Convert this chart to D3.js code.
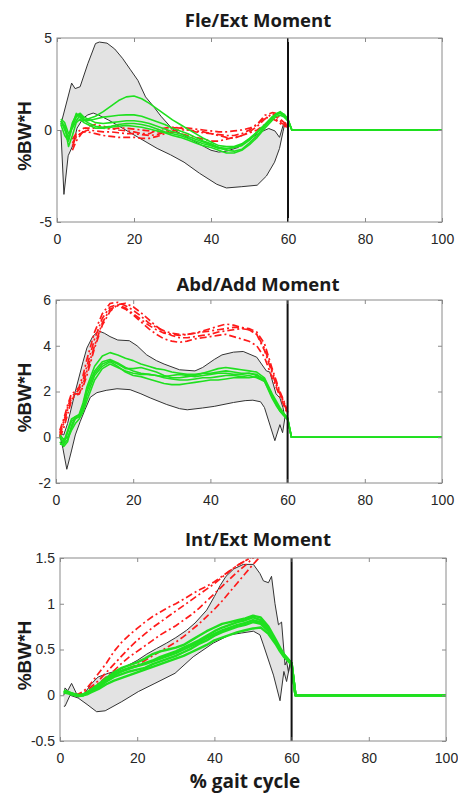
<!DOCTYPE html>
<html lang="en">
<head>
<meta charset="UTF-8">
<title>Hip moments</title>
<script src="https://cdn.jsdelivr.net/npm/d3@7"></script>
<style>
  body { margin: 0; background: #fff; }
  .tick text { font-family: "Liberation Sans", Arial, sans-serif; font-size: 14px; fill: #262626; }
  .title { font-family: "Open Sans", sans-serif; font-weight: bold; font-size: 18.5px; fill: #1a1a1a; }
  .ylab { font-family: "Liberation Sans", Arial, sans-serif; font-weight: bold; font-size: 19px; fill: #1a1a1a; }
</style>
</head>
<body>
<svg id="chart" width="458" height="796"></svg>
<script>
// stance-phase sample points (% gait cycle) shared by the subject curves
var stancePct = [1,2,3,4,5,6,7,8,10,12,14,16,18,20,22,24,26,28,30,32,34,36,38,40,42,44,46,48,50,52,54,56,57,58,59,60];
// after toe-off the green curves sit at zero
var swingPct = [61, 100];
var swingVal = [0, 0];
var xTicks = [0, 20, 40, 60, 80, 100];
var toeOff = 60;

// ---- Fle/Ext ----
var fleTicks = [-5, 0, 5];
var fleUpper = [[1,0.3],[3.8,2.55],[4.7,2.25],[6,2.35],[8,3.6],[10,4.7],[11,4.78],[13,4.72],[15,4.4],[17,3.9],[19,3.3],[21,2.7],[23,1.8],[25,1.3],[27,0.75],[30,0.05],[33,-0.3],[36,-0.65],[40,-1.1],[42,-1.2],[44,-1.15],[47,-0.95],[50,-0.5],[53,-0.1],[55,0.08],[56.6,-0.05],[57.8,-0.4],[58.8,0.3],[59.3,0.4]];
var fleLower = [[1,0.0],[1.8,-3.5],[2.9,-1.4],[4.2,-0.8],[5.2,0.1],[6.8,0.64],[8,0.82],[9.4,0.92],[10.7,0.82],[13.3,0.55],[17,0.1],[21.5,-0.45],[26,-1.0],[29.5,-1.35],[33,-1.75],[37,-2.35],[41.5,-2.95],[44,-3.15],[48,-3.08],[52,-3.0],[54.4,-2.5],[56.5,-1.75],[57.8,-1.0],[58.7,-0.1],[59.2,0.4]];
var fleRed = [
  [null,null,null,-0.9,-0.3,-0.2,-0.1,-0.1,-0.2,-0.3,-0.35,-0.4,-0.4,-0.4,-0.45,-0.45,-0.35,-0.2,-0.1,-0.2,-0.3,-0.4,-0.5,-0.6,-0.6,-0.5,-0.4,-0.3,-0.15,0.0,0.3,0.6,0.55,0.4,0.3,0.2],
  [null,null,null,-0.5,-0.2,0.0,0.1,0.1,0.1,0.1,0.05,0.1,0.1,0.05,0.0,-0.05,-0.1,-0.1,-0.05,0.0,0.0,-0.05,-0.1,-0.2,-0.25,-0.3,-0.3,-0.2,0.0,0.3,0.8,0.95,0.9,0.6,0.4,0.3],
  [null,null,null,-1.1,-0.6,-0.3,0.0,0.2,0.3,0.2,0.1,0.0,-0.05,-0.1,-0.2,-0.2,0.0,0.1,0.15,0.1,0.0,-0.1,-0.15,-0.2,-0.3,-0.4,-0.45,-0.3,-0.1,0.2,0.6,0.9,0.7,0.5,0.3,0.25],
  [null,null,null,-0.7,-0.4,-0.2,-0.1,0.0,-0.05,-0.1,-0.1,-0.15,-0.2,-0.2,-0.25,-0.3,-0.25,-0.1,0.1,0.15,0.1,0.05,0.0,-0.05,-0.1,-0.1,-0.05,0.0,0.1,0.3,0.7,0.6,0.5,0.35,0.2,0.15]
];
var fleGreen = [
  [0.5,0.2,-0.5,0.3,0.9,0.7,0.5,0.6,0.75,1.0,1.3,1.6,1.8,1.85,1.7,1.45,1.15,0.85,0.55,0.3,0.05,-0.2,-0.45,-0.65,-0.85,-0.9,-0.9,-0.75,-0.45,-0.1,0.3,0.75,0.85,0.9,0.75,0.5],
  [0.3,-0.3,-0.6,0.2,0.7,0.9,0.6,0.5,0.6,0.7,0.75,0.8,0.82,0.82,0.75,0.6,0.45,0.3,0.1,-0.05,-0.2,-0.4,-0.6,-0.75,-0.95,-1.1,-1.15,-1.05,-0.7,-0.3,0.2,0.7,0.85,0.95,0.85,0.55],
  [0.6,0.4,-0.2,0.1,0.5,0.8,0.55,0.4,0.2,0.15,0.2,0.3,0.35,0.35,0.3,0.2,0.05,-0.1,-0.2,-0.3,-0.45,-0.6,-0.75,-0.85,-1.0,-1.05,-0.95,-0.8,-0.5,-0.1,0.3,0.7,0.9,1.0,0.8,0.55],
  [0.4,0.2,-0.9,-0.3,0.4,0.6,0.4,0.3,0.1,0.1,0.15,0.2,0.25,0.2,0.15,0.05,-0.05,-0.15,-0.3,-0.4,-0.55,-0.7,-0.85,-0.95,-1.1,-1.25,-1.25,-1.1,-0.8,-0.4,0.1,0.55,0.75,0.8,0.7,0.5],
  [0.5,0.0,-0.4,0.4,0.8,0.9,0.7,0.6,0.4,0.35,0.4,0.45,0.5,0.5,0.45,0.35,0.2,0.05,-0.1,-0.2,-0.35,-0.5,-0.65,-0.8,-0.95,-1.0,-0.95,-0.85,-0.55,-0.15,0.25,0.65,0.85,0.95,0.85,0.6]
];

// ---- Abd/Add ----
var abdTicks = [-2, 0, 2, 4, 6];
var abdUpper = [[1,0.2],[2,0.1],[3,0.6],[5,2.0],[7,3.3],[8,3.9],[9.5,4.4],[11,4.65],[12.5,4.55],[14,4.4],[16,4.25],[19,4.22],[21,4.0],[23.5,3.6],[26,3.35],[28,3.2],[32,2.95],[36,2.9],[38,3.05],[41,3.4],[43,3.6],[46,3.72],[48.5,3.75],[52,3.5],[54.5,2.9],[55.4,2.85],[57,1.9],[58,1.72],[58.8,1.3],[59.3,0.85]];
var abdLower = [[1,0.1],[1.8,-0.5],[2.8,-1.4],[4,-0.6],[5,0.1],[6.3,0.7],[7.5,1.2],[8.9,1.75],[10.6,1.95],[13,2.05],[15.8,2.12],[19.2,2.08],[22,1.9],[24.4,1.72],[28.7,1.43],[32,1.25],[34,1.2],[38,1.28],[41,1.35],[46,1.52],[49,1.6],[51,1.62],[53,1.55],[54,1.3],[56.7,-0.15],[58,0.55],[58.7,0.2],[59.3,0.85]];
var abdRed = [
  [0.3,0.8,1.4,1.9,2.0,2.2,2.7,3.4,4.6,5.4,5.85,5.9,5.75,5.55,5.3,5.0,4.8,4.65,4.55,4.5,4.5,4.55,4.6,4.65,4.7,4.75,4.8,4.8,4.75,4.6,4.1,3.0,2.5,2.0,1.6,1.1],
  [0.0,0.4,1.0,1.6,1.9,1.9,2.2,2.7,3.9,4.9,5.5,5.8,5.85,5.7,5.45,5.15,4.85,4.6,4.45,4.35,4.35,4.4,4.45,4.5,4.6,4.65,4.7,4.75,4.7,4.5,3.8,2.8,2.3,1.9,1.5,1.05],
  [0.1,0.6,1.2,1.7,1.8,1.9,2.3,2.9,4.0,5.0,5.6,5.75,5.6,5.35,5.05,4.75,4.5,4.3,4.2,4.15,4.2,4.3,4.35,4.4,4.45,4.5,4.4,4.3,4.2,4.0,3.5,2.6,2.2,1.8,1.4,1.0],
  [0.2,0.7,1.3,1.8,1.9,2.1,2.5,3.1,4.3,5.2,5.7,5.8,5.65,5.4,5.15,4.9,4.7,4.55,4.5,4.45,4.5,4.55,4.65,4.75,4.85,4.95,4.9,4.8,4.7,4.5,3.9,2.9,2.4,1.95,1.55,1.1]
];
var abdGreen = [
  [0.0,-0.2,0.3,0.8,0.9,1.0,1.5,2.2,3.1,3.55,3.7,3.6,3.45,3.35,3.2,3.1,3.0,2.95,2.85,2.8,2.75,2.75,2.8,2.8,2.85,2.9,2.85,2.8,2.8,2.75,2.5,1.8,1.5,1.2,1.0,0.85],
  [-0.2,-0.4,-0.2,0.5,0.9,0.95,1.3,2.0,2.8,3.2,3.35,3.2,3.0,3.0,3.05,2.95,2.85,2.7,2.6,2.6,2.65,2.7,2.8,2.9,3.0,3.05,3.0,2.95,2.9,2.85,2.6,1.9,1.6,1.3,1.05,0.85],
  [0.1,-0.1,0.0,0.4,0.8,0.9,1.2,1.8,2.7,3.1,3.3,3.1,2.85,2.7,2.65,2.55,2.45,2.35,2.3,2.3,2.35,2.4,2.45,2.5,2.5,2.55,2.6,2.6,2.6,2.65,2.45,1.7,1.4,1.15,0.95,0.8],
  [-0.3,-0.3,0.2,0.7,0.85,0.9,1.4,2.1,2.9,3.3,3.4,3.25,3.05,2.9,2.8,2.75,2.7,2.65,2.7,2.75,2.7,2.65,2.7,2.75,2.8,2.8,2.75,2.75,2.8,2.7,2.55,1.85,1.5,1.2,1.0,0.8],
  [0.0,-0.3,-0.1,0.3,0.6,0.8,1.1,1.6,2.5,3.0,3.2,3.05,2.9,2.8,2.75,2.75,2.7,2.6,2.55,2.5,2.5,2.55,2.6,2.6,2.65,2.7,2.7,2.65,2.7,2.6,2.45,1.8,1.45,1.15,0.95,0.75]
];

// ---- Int/Ext ----
var intTicks = [-0.5, 0, 0.5, 1, 1.5];
var intUpper = [[1,0.0],[1.3,0.08],[2,0.05],[3,0.13],[4.7,-0.02],[6.4,0.02],[8,0.12],[9.9,0.2],[12.5,0.24],[15,0.27],[17.3,0.32],[20,0.38],[22.5,0.45],[25,0.51],[27.6,0.57],[30,0.63],[32.8,0.71],[35,0.79],[38,0.93],[40,1.08],[41.5,1.2],[43,1.3],[45,1.38],[47.5,1.43],[50.1,1.43],[51.8,1.33],[52.7,1.25],[54,1.23],[54.8,1.3],[55.7,1.0],[56.6,0.77],[57.4,0.8],[58.3,0.33],[58.7,0.37],[59.2,0.25],[59.6,0.36]];
var intLower = [[1,-0.12],[1.3,-0.12],[2.6,0.0],[4.7,-0.03],[7,-0.1],[9.5,-0.18],[11.7,-0.17],[16,-0.07],[20.3,0.04],[24.6,0.13],[29.8,0.24],[34.5,0.42],[39.7,0.57],[44,0.66],[47,0.68],[50.1,0.7],[51.8,0.66],[52.7,0.55],[55.3,0.22],[57,-0.06],[58,0.26],[58.7,0.15],[59.4,0.3],[59.6,0.36]];
// these run above the 1.5 limit late in stance and are cut off by the axes
var intRed = [
  [null,null,null,0.0,0.02,0.04,0.08,0.13,0.24,0.35,0.48,0.58,0.66,0.73,0.8,0.86,0.91,0.96,1.0,1.05,1.1,1.15,1.19,1.24,1.3,1.36,1.42,1.47,1.52,1.58,1.62,1.65,1.65,1.62,1.58,null],
  [null,null,null,0.0,0.01,0.03,0.05,0.09,0.16,0.25,0.34,0.43,0.52,0.6,0.67,0.74,0.8,0.86,0.92,0.98,1.04,1.1,1.16,1.22,1.29,1.36,1.42,1.47,1.52,1.58,1.62,1.65,1.65,1.62,1.58,null],
  [null,null,null,0.0,0.01,0.02,0.04,0.07,0.13,0.2,0.27,0.35,0.42,0.48,0.54,0.6,0.66,0.71,0.76,0.82,0.88,0.95,1.03,1.11,1.19,1.27,1.35,1.42,1.5,1.56,1.6,1.62,1.62,1.6,1.55,null],
  [null,null,null,0.0,0.01,0.02,0.04,0.06,0.12,0.18,0.23,0.27,0.3,0.33,0.38,0.43,0.48,0.53,0.58,0.64,0.71,0.78,0.86,0.94,1.03,1.13,1.23,1.33,1.43,1.52,1.58,1.6,1.6,1.58,1.52,null]
];
var intGreen = [
  [0.04,0.03,0.02,0.01,0.0,0.01,0.03,0.06,0.12,0.19,0.25,0.3,0.33,0.36,0.4,0.45,0.48,0.5,0.52,0.55,0.6,0.65,0.7,0.74,0.78,0.8,0.82,0.84,0.87,0.85,0.75,0.6,0.52,0.45,0.4,0.35],
  [0.05,0.04,0.02,0.0,0.0,0.0,0.02,0.05,0.1,0.16,0.22,0.26,0.29,0.32,0.35,0.38,0.42,0.45,0.48,0.52,0.56,0.6,0.65,0.7,0.74,0.77,0.8,0.82,0.85,0.82,0.72,0.58,0.5,0.44,0.4,0.35],
  [0.03,0.02,0.01,0.0,-0.01,0.0,0.02,0.04,0.09,0.15,0.2,0.23,0.26,0.28,0.3,0.34,0.37,0.4,0.43,0.47,0.51,0.56,0.6,0.65,0.69,0.72,0.75,0.77,0.8,0.78,0.7,0.57,0.49,0.43,0.38,0.34],
  [0.05,0.03,0.01,0.0,0.0,0.0,0.01,0.03,0.07,0.12,0.16,0.19,0.22,0.25,0.28,0.31,0.34,0.37,0.4,0.43,0.47,0.51,0.55,0.6,0.63,0.66,0.69,0.71,0.73,0.74,0.67,0.55,0.48,0.42,0.38,0.33],
  [0.04,0.03,0.02,0.01,0.0,0.01,0.03,0.06,0.11,0.17,0.23,0.27,0.3,0.32,0.34,0.37,0.4,0.43,0.46,0.5,0.54,0.58,0.63,0.67,0.71,0.74,0.77,0.79,0.82,0.8,0.71,0.58,0.5,0.44,0.39,0.35]
];

var svg = d3.select("#chart");
var GREEN = "#1fe01f", RED = "#ff1a1a", FRAME = "#8a8a8a";

var panels = [
  {title: "Fle/Ext Moment", titleY: 27, left: 57, right: 442, top: 38, bottom: 222,
   yDomain: [-5, 5], yTicks: fleTicks, upper: fleUpper, lower: fleLower, reds: fleRed, greens: fleGreen, gw: 1.6},
  {title: "Abd/Add Moment", titleY: 291, left: 56, right: 442, top: 300, bottom: 483,
   yDomain: [-2, 6], yTicks: abdTicks, upper: abdUpper, lower: abdLower, reds: abdRed, greens: abdGreen, gw: 1.6},
  {title: "Int/Ext Moment", titleY: 546, left: 60, right: 446, top: 558, bottom: 741,
   yDomain: [-0.5, 1.5], yTicks: intTicks, upper: intUpper, lower: intLower, reds: intRed, greens: intGreen, gw: 2.4}
];

panels.forEach(function(p, i) { drawPanel(p, i); });

function drawPanel(p, i) {
  var x = d3.scaleLinear().domain([0, 100]).range([p.left, p.right]);
  var y = d3.scaleLinear().domain(p.yDomain).range([p.bottom, p.top]);
  var g = svg.append("g");

  svg.append("clipPath").attr("id", "clip" + i)
    .append("rect").attr("x", p.left).attr("y", p.top)
    .attr("width", p.right - p.left).attr("height", p.bottom - p.top);
  var plot = g.append("g").attr("clip-path", "url(#clip" + i + ")");

  var line = d3.line().defined(function(d) { return d[1] != null; })
    .x(function(d) { return x(d[0]); }).y(function(d) { return y(d[1]); });

  // normal band
  var band = p.upper.concat(p.lower.slice().reverse());
  plot.append("path").attr("d", line(band) + "Z")
    .attr("fill", "#e3e3e3").attr("stroke", "none");
  [p.upper, p.lower].forEach(function(edge) {
    plot.append("path").attr("d", line(edge))
      .attr("fill", "none").attr("stroke", "#333").attr("stroke-width", 1);
  });

  p.reds.forEach(function(vals) {
    var pts = stancePct.map(function(t, k) { return [t, vals[k]]; });
    plot.append("path").attr("d", line(pts))
      .attr("fill", "none").attr("stroke", RED).attr("stroke-width", 1.7)
      .attr("stroke-dasharray", "7,3,2,3");
  });

  // vertical line at toe-off
  g.append("line").attr("x1", x(toeOff)).attr("x2", x(toeOff))
    .attr("y1", p.top).attr("y2", p.bottom)
    .attr("stroke", "#111").attr("stroke-width", 2);

  p.greens.forEach(function(vals) {
    var pts = stancePct.map(function(t, k) { return [t, vals[k]]; })
      .concat(swingPct.map(function(t, k) { return [t, swingVal[k]]; }));
    plot.append("path").attr("d", line(pts))
      .attr("fill", "none").attr("stroke", GREEN).attr("stroke-width", p.gw)
      .attr("stroke-linejoin", "round");
  });

  // axes, MATLAB style: ticks inside on all four sides
  var fmt = function(d) { return String(d); };
  var ax = [
    g.append("g").attr("transform", "translate(0," + p.bottom + ")")
      .call(d3.axisBottom(x).tickValues(xTicks).tickFormat(fmt).tickSizeInner(-4).tickSizeOuter(0).tickPadding(12)),
    g.append("g").attr("transform", "translate(0," + p.top + ")")
      .call(d3.axisTop(x).tickValues(xTicks).tickFormat("").tickSizeInner(-4).tickSizeOuter(0)),
    g.append("g").attr("transform", "translate(" + p.left + ",0)")
      .call(d3.axisLeft(y).tickValues(p.yTicks).tickFormat(fmt).tickSizeInner(-4).tickSizeOuter(0).tickPadding(5)),
    g.append("g").attr("transform", "translate(" + p.right + ",0)")
      .call(d3.axisRight(y).tickValues(p.yTicks).tickFormat("").tickSizeInner(-4).tickSizeOuter(0))
  ];
  ax.forEach(function(a) {
    a.select(".domain").remove();
    a.selectAll(".tick line").attr("stroke", FRAME);
  });
  g.append("rect").attr("x", p.left).attr("y", p.top)
    .attr("width", p.right - p.left).attr("height", p.bottom - p.top)
    .attr("fill", "none").attr("stroke", FRAME).attr("stroke-width", 1);

  g.append("text").attr("class", "title")
    .attr("x", 258).attr("y", p.titleY).attr("text-anchor", "middle").text(p.title);
  g.append("text").attr("class", "ylab")
    .attr("transform", "translate(31," + ((p.top + p.bottom) / 2 + 6) + ") rotate(-90)")
    .attr("text-anchor", "middle").text("%BW*H");
}

svg.append("text").attr("class", "title").style("font-size", "19px")
  .attr("x", 245).attr("y", 788).attr("text-anchor", "middle").text("% gait cycle");
</script>
</body>
</html>
